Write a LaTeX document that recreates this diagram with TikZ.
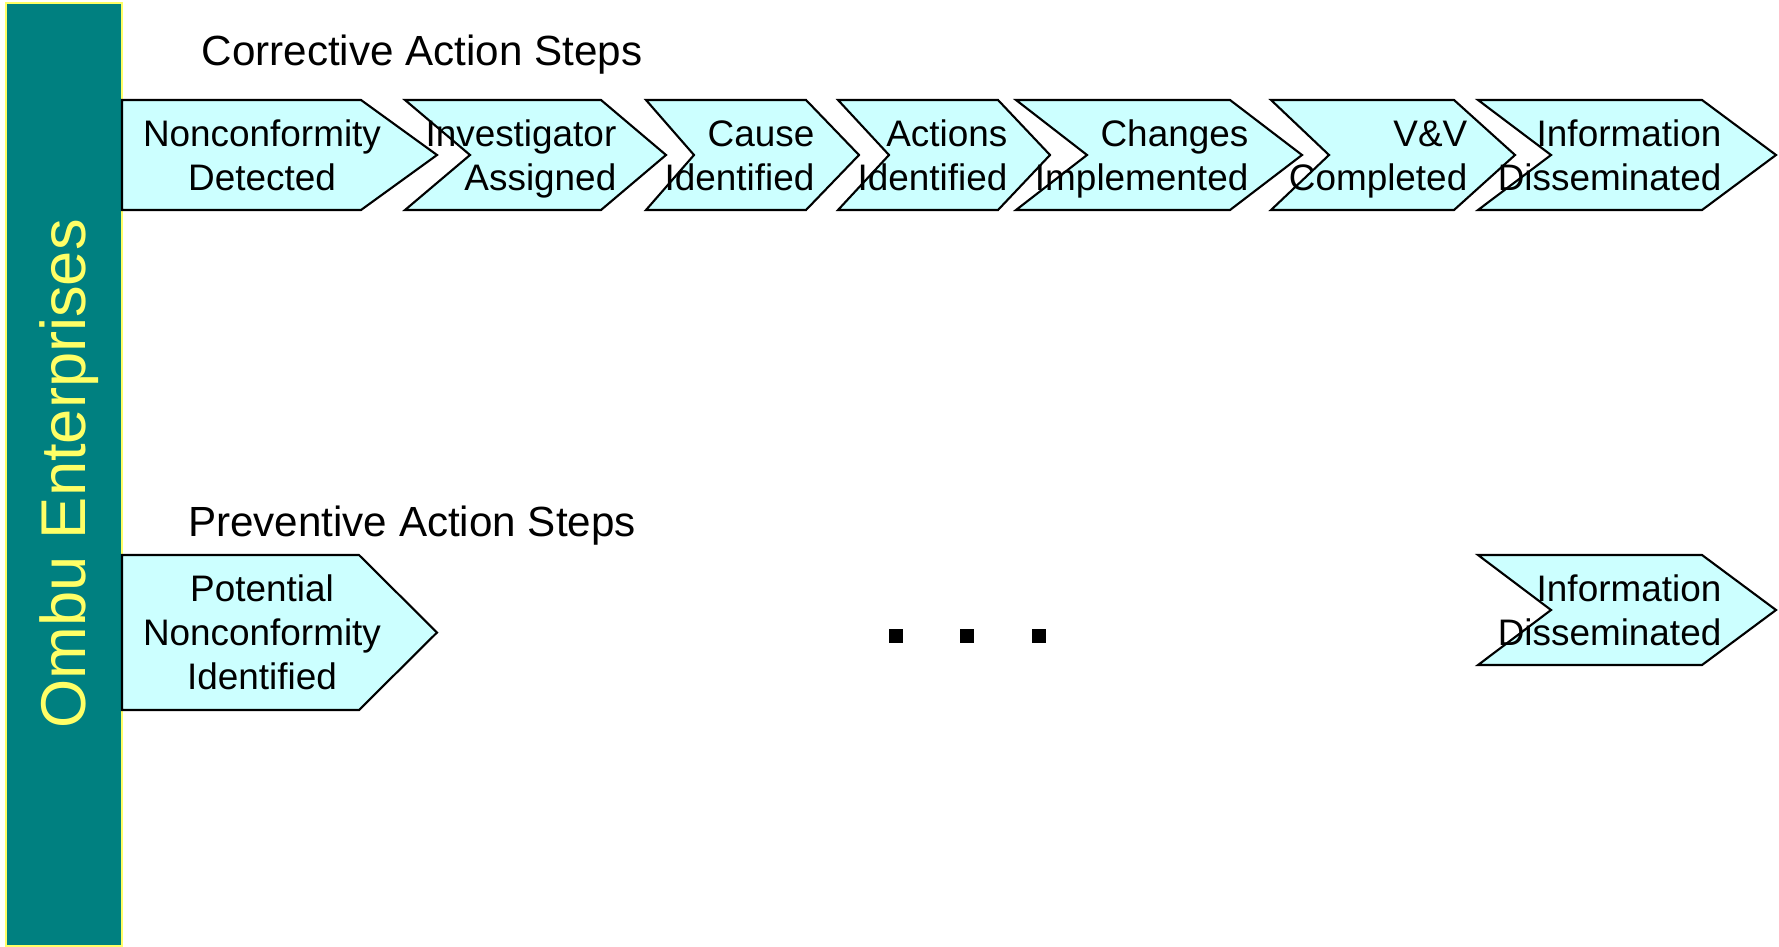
\documentclass[tikz,border=0pt]{standalone}
\usepackage{fontspec}
\setmainfont{Liberation Sans}
\usepackage{tikz}
\usetikzlibrary{positioning}
\usepackage{xcolor}
\definecolor{barteal}{RGB}{0,128,128}
\definecolor{baryellow}{RGB}{255,255,102}
\definecolor{chevfill}{RGB}{204,255,255}
\tikzset{
  chev/.style={draw=black, fill=chevfill, line width=0.6pt, line join=miter},
  steptext/.style={inner sep=0pt, font=\fontsize{10.5}{12.5}\selectfont},
  rowtitle/.style={inner sep=0pt, font=\fontsize{12}{14}\selectfont}
}

\begin{document}
\begin{tikzpicture}
        \useasboundingbox (0,0) rectangle (17.79,9.46);
        \fill[white] (0,0) rectangle (17.79,9.46);

        % side bar
        \draw[fill=barteal, draw=baryellow, line width=0.3pt] (0.06,0) rectangle (1.22,9.43);
        \node[rotate=90, text=baryellow, inner sep=0pt, font=\fontsize{18}{20}\selectfont] (ombu) at (0.69,4.72) {Ombu Enterprises};

        % corrective row
        \node[rowtitle] (corr) at (4.22,8.91) {Corrective Action Steps};
        \draw[chev] (1.22,8.46) -- (3.61,8.46) -- (4.37,7.91) -- (3.61,7.36) -- (1.22,7.36) -- cycle;
        \draw[chev] (4.05,8.46) -- (6.01,8.46) -- (6.66,7.91) -- (6.01,7.36) -- (4.05,7.36) -- (4.70,7.91) -- cycle;
        \draw[chev] (6.46,8.46) -- (8.06,8.46) -- (8.59,7.91) -- (8.06,7.36) -- (6.46,7.36) -- (6.94,7.91) -- cycle;
        \draw[chev] (8.38,8.46) -- (9.98,8.46) -- (10.50,7.91) -- (9.98,7.36) -- (8.38,7.36) -- (8.89,7.91) -- cycle;
        \draw[chev] (10.16,8.46) -- (12.30,8.46) -- (13.02,7.91) -- (12.30,7.36) -- (10.16,7.36) -- (10.87,7.91) -- cycle;
        \draw[chev] (12.71,8.46) -- (14.54,8.46) -- (15.15,7.91) -- (14.54,7.36) -- (12.71,7.36) -- (13.29,7.91) -- cycle;
        \draw[chev] (14.78,8.46) -- (17.02,8.46) -- (17.76,7.91) -- (17.02,7.36) -- (14.78,7.36) -- (15.51,7.91) -- cycle;

        \node[steptext, align=center] (detected) at (2.62,7.86) {Nonconformity\strut\\Detected\strut};
        \node[steptext, align=right, anchor=east] (assigned) at (6.17,7.86) {Investigator\strut\\Assigned\strut};
        \node[steptext, align=right, anchor=east] (cause) at (8.15,7.86) {Cause\strut\\Identified\strut};
        \node[steptext, align=right, anchor=east] (actions) at (10.08,7.86) {Actions\strut\\Identified\strut};
        \node[steptext, align=right, anchor=east] (changes) at (12.49,7.86) {Changes\strut\\Implemented\strut};
        \node[steptext, align=right, anchor=east] (vv) at (14.68,7.86) {V\&V\strut\\Completed\strut};
        \node[steptext, align=right, anchor=east] (info) at (17.22,7.86) {Information\strut\\Disseminated\strut};

        % preventive row
        \node[rowtitle] (prev) at (4.12,4.20) {Preventive Action Steps};
        \draw[chev] (1.22,3.91) -- (3.59,3.91) -- (4.37,3.135) -- (3.59,2.36) -- (1.22,2.36) -- cycle;
        \draw[chev] (14.78,3.91) -- (17.02,3.91) -- (17.76,3.36) -- (17.02,2.81) -- (14.78,2.81) -- (15.51,3.36) -- cycle;

        \node[steptext, align=center] (potential) at (2.62,3.09) {Potential\strut\\Nonconformity\strut\\Identified\strut};
        \node[steptext, align=right, anchor=east] (info-p) at (17.22,3.31) {Information\strut\\Disseminated\strut};

        \foreach \x in {8.96,9.67,10.39}
            \fill[black] (\x-0.07,3.03) rectangle (\x+0.07,3.17);
\end{tikzpicture}
\end{document}
